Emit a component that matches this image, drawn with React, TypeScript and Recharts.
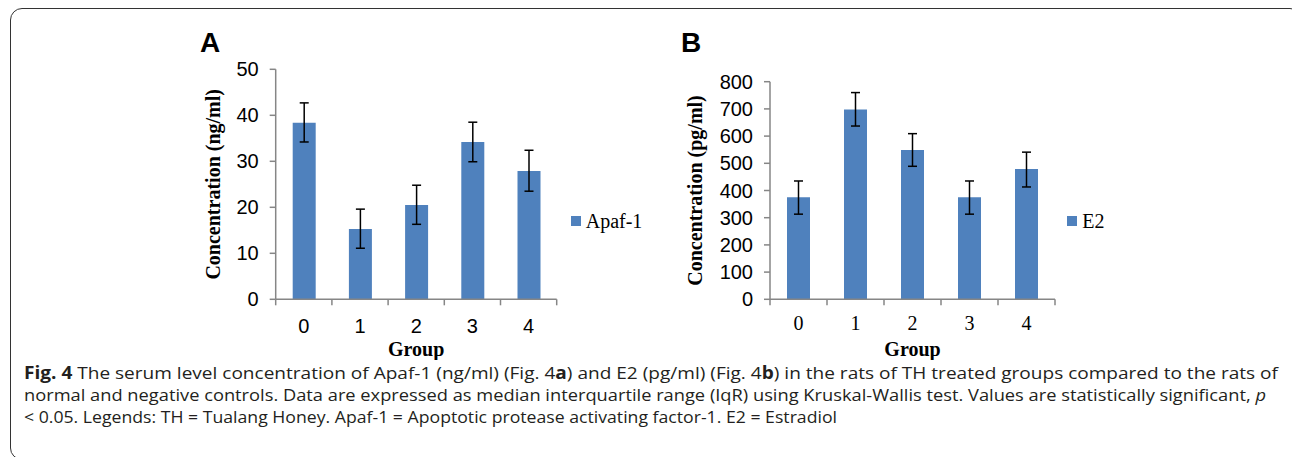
import React from "react";
import { BarChart, Bar, XAxis, YAxis, ErrorBar, Legend, Label } from "recharts";

// Panel A: Apaf-1 (ng/ml), Panel B: E2 (pg/ml)
const groups = ["0", "1", "2", "3", "4"];

const apafValues = [38.4, 15.3, 20.5, 34.2, 27.9];
const apafLow = [34.2, 11.1, 16.3, 29.9, 23.5];
const apafHigh = [42.7, 19.6, 24.8, 38.5, 32.4];
const apafTicks = [0, 10, 20, 30, 40, 50];

const e2Values = [375, 698, 549, 375, 479];
const e2Low = [313, 637, 489, 313, 413];
const e2High = [435, 760, 609, 435, 541];
const e2Ticks = [0, 100, 200, 300, 400, 500, 600, 700, 800];

const captionLines = [
  "The serum level concentration of Apaf-1 (ng/ml) (Fig. 4",
  ") and E2 (pg/ml) (Fig. 4",
  ") in the rats of TH treated groups compared to the rats of",
  "normal and negative controls. Data are expressed as median interquartile range (IqR) using Kruskal-Wallis test. Values are statistically significant, ",
  "< 0.05. Legends: TH = Tualang Honey. Apaf-1 = Apoptotic protease activating factor-1. E2 = Estradiol",
];

const BAR = "#4f81bd";
const AXIS = "#868686";
const SANS = '"Liberation Sans", Arial, sans-serif';
const SERIF = '"Liberation Serif", "Times New Roman", serif';
const CAPTION = '"Open Sans", "Noto Sans", sans-serif';

const buildRows = (values: number[], low: number[], high: number[]) =>
  groups.map((g, i) => ({
    group: g,
    value: values[i],
    err: [values[i] - low[i], high[i] - values[i]],
  }));

interface PanelProps {
  rows: ReturnType<typeof buildRows>;
  ticks: number[];
  name: string;
  yLabel: string;
  left: number;
  width: number;
  yWidth: number;
  plotW: number;
  top: number;
  xFont: string;
  xMargin: number;
  legendLeft: number;
}

function Panel({ rows, ticks, name, yLabel, left, width, yWidth, plotW, top, xFont, xMargin, legendLeft }: PanelProps) {
  // category label in the middle, tick marks on the category edges (Excel style)
  const renderXTick = (p: any) => {
    const half = p.payload?.offset || plotW / rows.length / 2;
    const y0 = p.y - xMargin;
    const last = p.index === rows.length - 1;
    return (
      <g>
        <line x1={p.x - half} x2={p.x - half} y1={y0} y2={y0 + 6} stroke={AXIS} strokeWidth={1.5} />
        {last && <line x1={p.x + half} x2={p.x + half} y1={y0} y2={y0 + 6} stroke={AXIS} strokeWidth={1.5} />}
        <text x={p.x} y={p.y} dy="0.71em" textAnchor="middle" fill="#000" fontSize={20} fontFamily={xFont}>
          {p.payload.value}
        </text>
      </g>
    );
  };

  return (
    <div style={{ position: "absolute", left, top: 20 }}>
      <BarChart
        width={width}
        height={340}
        data={rows}
        margin={{ top, left: 0, right: width - yWidth - plotW, bottom: 3.7 }}
      >
        <XAxis
          dataKey="group"
          height={57}
          interval={0}
          tickLine={false}
          tickSize={0}
          tickMargin={xMargin}
          axisLine={{ stroke: AXIS, strokeWidth: 1.5 }}
          tick={renderXTick}
        >
          <Label
            value="Group"
            position="insideBottom"
            offset={0}
            style={{ fill: "#000", fontSize: 20, fontFamily: SERIF, fontWeight: "bold" }}
          />
        </XAxis>
        <YAxis
          width={yWidth}
          domain={[ticks[0], ticks[ticks.length - 1]]}
          ticks={ticks}
          interval={0}
          tickSize={6}
          tickMargin={11}
          axisLine={{ stroke: AXIS, strokeWidth: 1.5 }}
          tickLine={{ stroke: AXIS, strokeWidth: 1.5 }}
          tick={{ fill: "#000", fontSize: 20, fontFamily: SANS }}
        >
          <Label
            value={yLabel}
            angle={-90}
            position="center"
            style={{ fill: "#000", fontSize: 20, fontFamily: SERIF, fontWeight: "bold" }}
          />
        </YAxis>
        <Legend
          layout="vertical"
          align="center"
          verticalAlign="middle"
          wrapperStyle={{ left: legendLeft, top: 190.5, width: 120 }}
          content={({ payload }) => (
            <div>
              {(payload || []).map((p: any) => (
                <div
                  key={String(p.value)}
                  style={{ display: "flex", alignItems: "center", lineHeight: "20px", whiteSpace: "nowrap" }}
                >
                  <span style={{ width: 10, height: 10, background: p.color, marginRight: 5, flex: "none" }} />
                  <span style={{ fontFamily: SERIF, fontSize: 20, color: "#000" }}>{p.value}</span>
                </div>
              ))}
            </div>
          )}
        />
        <Bar dataKey="value" name={name} fill={BAR} barSize={23} isAnimationActive={false}>
          <ErrorBar dataKey="err" width={4.5} stroke="#000" strokeWidth={1.5} direction="y" />
        </Bar>
      </BarChart>
    </div>
  );
}

export default function App() {
  return (
    <div
      style={{
        position: "absolute",
        left: 0,
        top: 0,
        width: 1292,
        height: 457,
        overflow: "hidden",
        background: "#fff",
      }}
    >
      <div
        style={{
          position: "absolute",
          left: 10,
          top: 8,
          width: 1290,
          height: 450,
          border: "1.5px solid #333",
          borderRadius: 12,
        }}
      />
      <Panel
        rows={buildRows(apafValues, apafLow, apafHigh)}
        ticks={apafTicks}
        name="Apaf-1"
        yLabel="Concentration (ng/ml)"
        left={150}
        width={470}
        yWidth={125.7}
        plotW={281}
        top={49.3}
        xFont={SANS}
        xMargin={19.5}
        legendLeft={420.7}
      />
      <Panel
        rows={buildRows(e2Values, e2Low, e2High)}
        ticks={e2Ticks}
        name="E2"
        yLabel="Concentration (pg/ml)"
        left={620}
        width={500}
        yWidth={150}
        plotW={285}
        top={61.7}
        xFont={SERIF}
        xMargin={16.5}
        legendLeft={447.3}
      />
      <svg
        width={1292}
        height={457}
        style={{ position: "absolute", left: 0, top: 0, pointerEvents: "none" }}
      >
        <text x={200} y={52} fontFamily={SANS} fontWeight="bold" fontSize={28} fill="#000">
          A
        </text>
        <text x={681} y={52} fontFamily={SANS} fontWeight="bold" fontSize={28} fill="#000">
          B
        </text>
        <text x={24} y={379} fontFamily={CAPTION} fontSize={17} fill="#231f20" textLength={1254} lengthAdjust="spacingAndGlyphs">
          <tspan fontWeight="bold">Fig. 4</tspan> {captionLines[0]}
          <tspan fontWeight="bold">a</tspan>
          {captionLines[1]}
          <tspan fontWeight="bold">b</tspan>
          {captionLines[2]}
        </text>
        <text x={24} y={401} fontFamily={CAPTION} fontSize={17} fill="#231f20" textLength={1242} lengthAdjust="spacingAndGlyphs">
          {captionLines[3]}
          <tspan fontStyle="italic">p</tspan>
        </text>
        <text x={24} y={423} fontFamily={CAPTION} fontSize={17} fill="#231f20" textLength={813} lengthAdjust="spacingAndGlyphs">
          {captionLines[4]}
        </text>
      </svg>
    </div>
  );
}
